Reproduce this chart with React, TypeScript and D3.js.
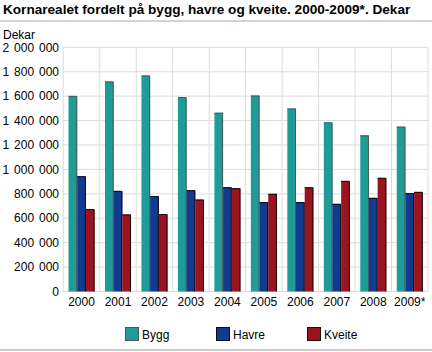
import React, { useEffect, useRef } from "react";
import * as d3 from "d3";

const years = ["2000", "2001", "2002", "2003", "2004", "2005", "2006", "2007", "2008", "2009*"];
const bygg = [1602000, 1720000, 1769000, 1592000, 1464000, 1605000, 1499000, 1385000, 1279000, 1350000];
const havre = [944000, 824000, 781000, 830000, 854000, 732000, 732000, 718000, 767000, 806000];
const kveite = [675000, 631000, 634000, 753000, 846000, 800000, 854000, 906000, 931000, 816000];
const seriesNames = ["Bygg", "Havre", "Kveite"];
const colors = ["#1f9b98", "#123a8e", "#9a1420"];
const edgeColors = ["#4a5a5a", "#0a0a1a", "#1a0a0a"];
const yTicks = [0, 200000, 400000, 600000, 800000, 1000000, 1200000, 1400000, 1600000, 1800000, 2000000];

const App = () => {
  const svgRef = useRef<SVGSVGElement>(null);

  useEffect(() => {
    const width = 432;
    const height = 352;
    const margin = { top: 47.3, right: 4, bottom: 60.5, left: 63.3 };
    const font = "'Liberation Sans', Arial, sans-serif";

    const svg = d3.select(svgRef.current);
    svg.selectAll("*").remove();
    svg.attr("width", width).attr("height", height).style("font-family", font);

    svg.append("rect").attr("width", width).attr("height", height).attr("fill", "#fff");

    // Title
    svg.append("text")
      .attr("x", 3)
      .attr("y", 13.5)
      .style("font-size", "13.6px")
      .style("font-weight", "bold")
      .text("Kornarealet fordelt på bygg, havre og kveite. 2000-2009*. Dekar");

    svg.append("line")
      .attr("x1", 0).attr("x2", width)
      .attr("y1", 21).attr("y2", 21)
      .attr("stroke", "#aaa").attr("stroke-width", 1.2);

    svg.append("line")
      .attr("x1", 0).attr("x2", width)
      .attr("y1", 350).attr("y2", 350)
      .attr("stroke", "#bbb").attr("stroke-width", 1.5);

    svg.append("text")
      .attr("x", 3)
      .attr("y", 39)
      .style("font-size", "12px")
      .text("Dekar");

    const x = d3.scaleBand()
      .domain(years)
      .range([margin.left, width - margin.right]);

    const x1 = d3.scaleBand()
      .domain(seriesNames)
      .range([0, x.bandwidth()])
      .paddingOuter(0.6)
      .paddingInner(0);

    const y = d3.scaleLinear()
      .domain([0, 2000000])
      .range([height - margin.bottom, margin.top]);

    // Grid
    const grid = svg.append("g").attr("stroke", "#dcdcdc").attr("stroke-width", 1);
    yTicks.forEach(t => {
      grid.append("line")
        .attr("x1", margin.left).attr("x2", width - margin.right)
        .attr("y1", y(t)).attr("y2", y(t));
    });
    years.forEach(yr => {
      grid.append("line")
        .attr("x1", x(yr)).attr("x2", x(yr))
        .attr("y1", margin.top).attr("y2", y(0));
    });
    grid.append("line")
      .attr("x1", width - margin.right).attr("x2", width - margin.right)
      .attr("y1", margin.top).attr("y2", y(0));

    // Y labels
    const fmt = (v: number) => d3.format(",")(v).replace(/,/g, " ");
    svg.append("g")
      .selectAll("text")
      .data(yTicks)
      .join("text")
      .attr("x", 59)
      .attr("y", d => y(d))
      .attr("dy", "0.35em")
      .attr("text-anchor", "end")
      .style("font-size", "12px")
      .style("word-spacing", "1.5px")
      .text(d => fmt(d));

    // Bars
    const allSeries = [bygg, havre, kveite];
    years.forEach((yr, i) => {
      const g = svg.append("g").attr("transform", `translate(${x(yr)},0)`);
      allSeries.forEach((vals, s) => {
        const bx = x1(seriesNames[s]) as number;
        const bw = x1.bandwidth();
        const top = y(vals[i]);
        g.append("rect")
          .attr("x", bx).attr("y", top)
          .attr("width", bw).attr("height", y(0) - top)
          .attr("fill", colors[s]);
        g.append("path")
          .attr("d", `M${bx},${top + 0.5}H${bx + bw - 0.5}V${y(0)}`)
          .attr("fill", "none")
          .attr("stroke", edgeColors[s])
          .attr("stroke-width", 1);
      });
    });

    // X labels
    svg.append("g")
      .selectAll("text")
      .data(years)
      .join("text")
      .attr("x", d => (x(d) as number) + x.bandwidth() / 2)
      .attr("y", 306)
      .attr("text-anchor", "middle")
      .style("font-size", "12px")
      .text(d => d);

    // Legend
    const legend = svg.append("g").attr("transform", "translate(125,327)");
    seriesNames.forEach((name, i) => {
      const row = legend.append("g").attr("transform", `translate(${i * 91},0)`);
      row.append("rect")
        .attr("x", 0.5).attr("y", 0.5)
        .attr("width", 13).attr("height", 13)
        .attr("fill", colors[i])
        .attr("stroke", edgeColors[i]);
      row.append("text")
        .attr("x", 17)
        .attr("y", 12)
        .style("font-size", "12px")
        .text(name);
    });
  }, []);

  return (
    <div style={{ position: "absolute", left: 0, top: 0 }}>
      <svg ref={svgRef}></svg>
    </div>
  );
};

export default App;
